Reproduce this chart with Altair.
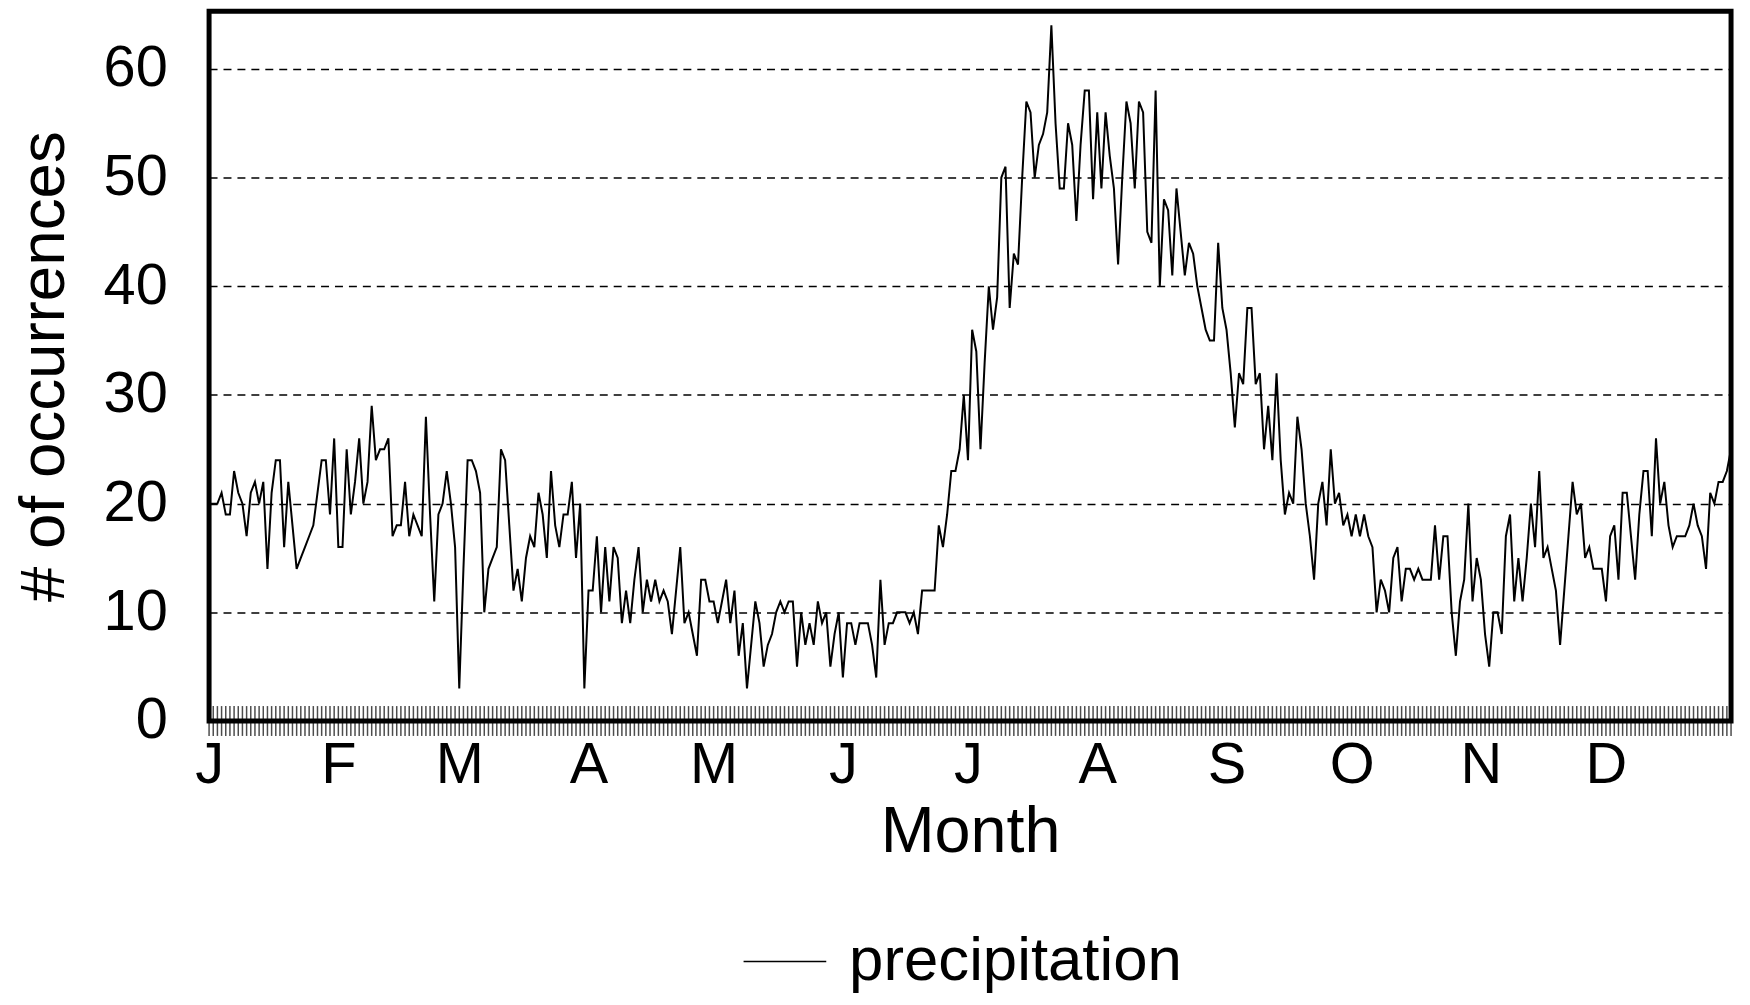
import altair as alt
import pandas as pd

# daily counts, Jan 1 .. Dec 31 (366 days)
jan = [20, 20, 20, 21, 19, 19, 23, 21, 20, 17, 21, 22, 20, 22, 14, 21, 24, 24, 16, 22, 18, 14, 15, 16, 17, 18, 21, 24, 24, 19, 26]
feb = [16, 16, 25, 19, 22, 26, 20, 22, 29, 24, 25, 25, 26, 17, 18, 18, 22, 17, 19, 18, 17, 28, 19, 11, 19, 20, 23, 20, 16]
mar = [3, 14, 24, 24, 23, 21, 10, 14, 15, 16, 25, 24, 18, 12, 14, 11, 15, 17, 16, 21, 19, 15, 23, 18, 16, 19, 19, 22, 15, 20, 3]
apr = [12, 12, 17, 10, 16, 11, 16, 15, 9, 12, 9, 13, 16, 10, 13, 11, 13, 11, 12, 11, 8, 12, 16, 9, 10, 8, 6, 13, 13, 11]
may = [11, 9, 11, 13, 9, 12, 6, 9, 3, 7, 11, 9, 5, 7, 8, 10, 11, 10, 11, 11, 5, 10, 7, 9, 7, 11, 9, 10, 5, 8, 10]
jun = [4, 9, 9, 7, 9, 9, 9, 7, 4, 13, 7, 9, 9, 10, 10, 10, 9, 10, 8, 12, 12, 12, 12, 18, 16, 19, 23, 23, 25, 30]
jul = [24, 36, 34, 25, 33, 40, 36, 39, 50, 51, 38, 43, 42, 50, 57, 56, 50, 53, 54, 56, 64, 55, 49, 49, 55, 53, 46, 53, 58, 58, 48]
aug = [56, 49, 56, 52, 49, 42, 50, 57, 55, 49, 57, 56, 45, 44, 58, 40, 48, 47, 41, 49, 45, 41, 44, 43, 40, 38, 36, 35, 35, 44, 38]
sep = [36, 32, 27, 32, 31, 38, 38, 31, 32, 25, 29, 24, 32, 24, 19, 21, 20, 28, 25, 20, 17, 13, 20, 22, 18, 25, 20, 21, 18, 19]
oct_ = [17, 19, 17, 19, 17, 16, 10, 13, 12, 10, 15, 16, 11, 14, 14, 13, 14, 13, 13, 13, 18, 13, 17, 17, 10, 6, 11, 13, 20, 11, 15]
nov = [13, 8, 5, 10, 10, 8, 17, 19, 11, 15, 11, 15, 20, 16, 23, 15, 16, 14, 12, 7, 12, 17, 22, 19, 20, 15, 16, 14, 14, 14]
dec = [11, 17, 18, 13, 21, 21, 17, 13, 19, 23, 23, 17, 26, 20, 22, 18, 16, 17, 17, 17, 18, 20, 18, 17, 14, 21, 20, 22, 22, 23, 25]

month_starts = [1, 32, 61, 92, 122, 153, 183, 214, 245, 275, 306, 336]
month_letters = ["J", "F", "M", "A", "M", "J", "J", "A", "S", "O", "N", "D"]
y_ticks = [0, 10, 20, 30, 40, 50, 60]
series_name = "precipitation"

values = jan + feb + mar + apr + may + jun + jul + aug + sep + oct_ + nov + dec
days = list(range(1, len(values) + 1))
df = pd.DataFrame({"day": days, "count": values, "series": series_name})

label_expr = " : ".join(
    f"datum.value == {d} ? '{m}'" for d, m in zip(month_starts, month_letters)
) + " : ''"

FONT = "Liberation Sans"

x_scale = alt.Scale(domain=[1, 366], nice=False, zero=False)
y_scale = alt.Scale(domain=[0, 65.3], nice=False)

base = alt.Chart(df)

line = base.mark_line(strokeWidth=2, interpolate="linear", color="black").encode(
    x=alt.X(
        "day:Q",
        scale=x_scale,
        axis=alt.Axis(
            values=month_starts,
            labelExpr=label_expr,
            title="Month",
            grid=False,
            ticks=False,
            domain=False,
            labelFontSize=58,
            labelPadding=16,
            labelFont=FONT,
            labelColor="black",
            labelFlush=False,
            labelOverlap=False,
            titleFont=FONT,
            titleFontSize=65,
            titleFontWeight="normal",
            titleColor="black",
            titlePadding=6,
        ),
    ),
    y=alt.Y(
        "count:Q",
        scale=y_scale,
        axis=alt.Axis(
            values=y_ticks,
            title="# of occurrences",
            grid=True,
            gridColor="black",
            gridDash=[8, 6],
            gridWidth=1.3,
            ticks=False,
            domain=False,
            labelFontSize=58,
            labelFont=FONT,
            labelColor="black",
            labelPadding=42,
            labelFlush=False,
            titleFont=FONT,
            titleFontSize=64,
            titleFontWeight="normal",
            titleColor="black",
            titlePadding=27,
        ),
    ),
    color=alt.Color(
        "series:N",
        scale=alt.Scale(range=["black"]),
        legend=alt.Legend(
            title=None,
            orient="none",
            legendX=536,
            legendY=912,
            symbolType="stroke",
            symbolSize=6900,
            symbolStrokeWidth=1.5,
            symbolStrokeColor="black",
            labelFontSize=62,
            labelFont=FONT,
            labelColor="black",
            labelOffset=22,
            labelLimit=0,
            padding=0,
        ),
    ),
)

ticks = base.mark_tick(color="black", thickness=1.5, size=30, orient="vertical").encode(
    x=alt.X("day:Q", scale=x_scale),
    y=alt.Y(datum=0, scale=y_scale),
)

chart = (
    alt.layer(line, ticks)
    .properties(
        width=1529,
        height=713,
        autosize=alt.AutoSizeParams(type="none"),
        padding={"left": 202, "top": 1, "right": 11, "bottom": 280},
        background="white",
    )
    .configure_view(stroke="black", strokeWidth=5)
)

chart.save("out.html", embed_options={"renderer": "svg", "actions": False})
